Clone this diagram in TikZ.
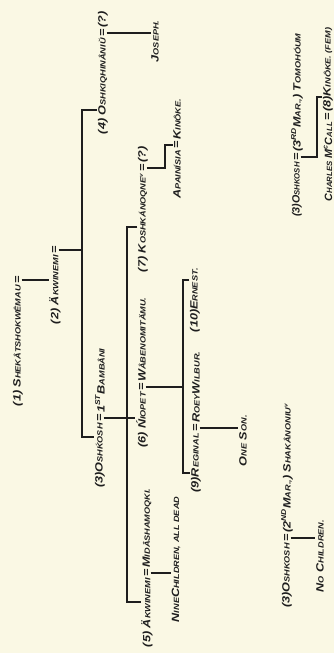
\documentclass[tikz,border=0pt]{standalone}
\usepackage{fontspec}
\setmainfont{Liberation Sans}[FakeStretch=1.2]
\usepackage{xcolor}
\definecolor{paperbuff}{RGB}{250,248,228}
\definecolor{inkgray}{RGB}{30,30,30}
\newcommand{\namefont}{\fontsize{9}{10}\selectfont\bfseries\itshape}
\newcommand{\lowc}[1]{{\fontsize{6.5}{7}\selectfont #1}}
\tikzset{
  person/.style={rotate=90, anchor=west, inner sep=0.5pt, text=inkgray, font=\namefont},
  wedsign/.style={rotate=90, inner sep=0.5pt, text=inkgray, font=\namefont},
  kin/.style={inkgray, line width=0.9pt}
}

\begin{document}
\begin{tikzpicture}[x=0.03cm, y=-0.03cm]
    \useasboundingbox (0,0) rectangle (334,653);
    \fill[paperbuff] (0,0) rectangle (334,653);

    % First and second generation
    \node[wedsign] (e1) at (18,280) {=};
    \node[person, anchor=east] (n1) at (e1.west) {(1) S\lowc{HEKÂTSHOKWÊMAU}};
    \node[wedsign] (e2) at (55,250) {=};
    \node[person, anchor=east] (n2) at (e2.west) {(2) Ä\lowc{KWINEMI}};

    % Children of (2)
    \node[wedsign] (e4) at (103,33) {=};
    \node[person, anchor=east] (n4) at (e4.west) {(4) O\lowc{SHKIQHINÂNIŬ}};
    \node[person] (w4) at (e4.east) {(?)};
    \node[person] (nj) at (155,63) {J\lowc{OSEPH.}};
    \node[wedsign] (e3) at (100,418) {=};
    \node[person, anchor=east] (n3) at (e3.west) {(3)O\lowc{SH\'KOSH}};
    \node[person] (w3) at (e3.east) {1\textsuperscript{ST}B\lowc{AMBÂNI}};

    % Children of (3) with 1st wife
    \node[wedsign] (e7) at (143,168) {=};
    \node[person, anchor=east] (n7) at (e7.west) {(7) K\lowc{OSHKÁNOQNE\textsuperscript{v}}};
    \node[person] (w7) at (e7.east) {(?)};
    \node[wedsign] (eapa) at (177,145) {=};
    \node[person, anchor=east] (napa) at (eapa.west) {A\lowc{PAINÍSIA}};
    \node[person] (wapa) at (eapa.east) {K\lowc{INÔKE.}};
    \node[wedsign] (e6) at (142,387) {=};
    \node[person, anchor=east] (n6) at (e6.west) {(6) Ń\lowc{IOPET}};
    \node[person] (w6) at (e6.east) {W\lowc{ÂBENOMITÄMU.}};
    \node[person] (n10) at (195,333) {(10)E\lowc{RNEST.}};
    \node[wedsign] (e9) at (196,428) {=};
    \node[person, anchor=east] (n9) at (e9.west) {(9)R\lowc{EGINAL}};
    \node[person] (w9) at (e9.east) {R\lowc{OEY}W\lowc{ILBUR.}};
    \node[person] (nson) at (243,467) {O\lowc{NE} S\lowc{ON.}};
    \node[wedsign] (e5) at (147,573) {=};
    \node[person, anchor=east] (n5) at (e5.west) {(5) Ä\lowc{KWINEMI}};
    \node[person] (w5) at (e5.east) {M\lowc{IDÂSHAMOQKI.}};
    \node[person] (nnine) at (176,623) {N\lowc{INE}C\lowc{HILDREN, ALL DEAD}};

    % Later marriages of (3)
    \node[wedsign] (e3c) at (297,157) {=};
    \node[person, anchor=east, xscale=0.85] (n3c) at (e3c.west) {(3)O\lowc{SHKOSH}};
    \node[person] (w3c) at (e3c.east) {(3\textsuperscript{RD}M\lowc{AR.,}) T\lowc{OMOHÓUM}};
    \node[wedsign] (emc) at (328,117) {=};
    \node[person, anchor=east, xscale=0.85] (nmc) at (emc.west) {C\lowc{HARLES} M\textsuperscript{c}C\lowc{ALL}};
    \node[person] (n8) at (emc.east) {(8)K\lowc{INÔKE. (FEM)}};
    \node[wedsign] (e3b) at (287,538) {=};
    \node[person, anchor=east] (n3b) at (e3b.west) {(3)O\lowc{SHKOSH}};
    \node[person] (w3b) at (e3b.east) {(2\textsuperscript{ND}M\lowc{AR.,}) S\lowc{HAKÂNONIU\textsuperscript{v}}};
    \node[person] (nno) at (320,593) {N\lowc{O} C\lowc{HILDREN.}};

    % Descent lines
    \coordinate (b4) at (82,110);
    \coordinate (b3) at (82,437);
    \coordinate (b7) at (127,227);
    \coordinate (b5) at (127,602);
    \coordinate (b10) at (183,280);
    \coordinate (b9) at (183,473);
    \coordinate (c7) at (165,145);
    \coordinate (c3) at (317,97);
    \draw[kin] (e1.south) -- (e1.south -| n2.north);
    \draw[kin] (e2.south) -- (e2.south -| b3);
    \draw[kin] (b4 -| n4.north) -- (b4) -- (b3) -- (b3 -| n3.north);
    \draw[kin] (e4.south) -- (e4.south -| nj.north);
    \draw[kin] (e3.south) -- (e3.south -| n6.north);
    \draw[kin] (b7 -| n7.north) -- (b7) -- (b5) -- (b5 -| n5.north);
    \draw[kin] (e7.south) -| (c7) -- (eapa.north);
    \draw[kin] (e6.south) -- (e6.south -| b9);
    \draw[kin] (b10 -| n10.north) -- (b10) -- (b9) -- (b9 -| n9.north);
    \draw[kin] (e9.south) -- (e9.south -| nson.north);
    \draw[kin] (e5.south) -- (e5.south -| nnine.north);
    \draw[kin] (e3c.south) -| (c3) -- (c3 -| n8.north);
    \draw[kin] (e3b.south) -- (e3b.south -| nno.north);
\end{tikzpicture}
\end{document}
